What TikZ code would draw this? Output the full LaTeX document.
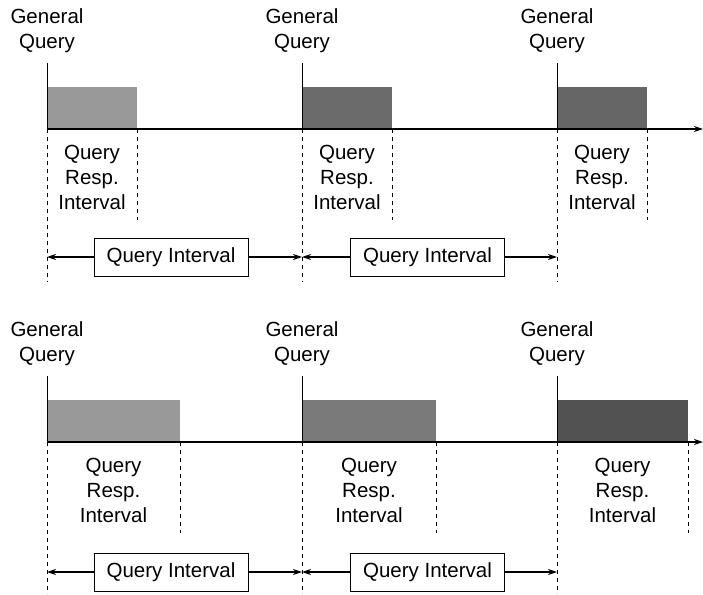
\documentclass[tikz,border=0pt]{standalone}
\usepackage{fontspec}
\setmainfont{Liberation Sans}
\usetikzlibrary{arrows.meta}
\begin{document}
\begin{tikzpicture}[x=1pt,y=-1pt,
  lbl/.style={align=center,font=\fontsize{20.5}{25}\selectfont,inner sep=0pt},
  ibox/.style={draw,line width=1pt,minimum width=154pt,minimum height=38pt,inner sep=0pt,font=\fontsize{20.5}{25}\selectfont,fill=white},
  base/.style={line width=1.4pt,-{Stealth[length=9pt,width=6pt]}},
  tick/.style={line width=0.8pt},
  dsh/.style={line width=0.9pt,dash pattern=on 4pt off 4pt},
  iarr/.style={line width=1.1pt,-{Stealth[length=9pt,width=6pt]}},
  shA/.style={fill=black!40},
  shB/.style={fill=black!58},
  shC/.style={fill=black!60},
  shD/.style={fill=black!52},
  shE/.style={fill=black!68}]
\useasboundingbox (0,0) rectangle (703,594);

% ---------- top panel ----------
\foreach \x/\n in {47/a,302/b,557/c}{
  \node[lbl] (tg\n) at (\x,31) {General\\Query};
  \coordinate (tv\n) at (\x,63);
  \coordinate (tb\n) at (\x,129);
  \coordinate (td\n) at (\x,282);
}
\fill[shA] (47,87) rectangle (137,129);
\fill[shB] (302,87) rectangle (392,129);
\fill[shC] (557,87) rectangle (647,129);
\coordinate (tend) at (703,129);
\draw[base] (tba) -- (tend);
\foreach \n in {a,b,c}{
  \draw[tick] (tv\n) -- (tb\n);
  \draw[dsh] (tb\n) -- (td\n);
}
\foreach \x/\n in {137/a,392/b,647/c}{
  \coordinate (tr\n) at (\x,129);
  \coordinate (ts\n) at (\x,220);
  \draw[dsh] (tr\n) -- (ts\n);
}
\node[lbl] (tq1) at (92,177) {Query\\Resp.\\Interval};
\node[lbl] (tq2) at (347,177) {Query\\Resp.\\Interval};
\node[lbl] (tq3) at (602,177) {Query\\Resp.\\Interval};
\coordinate (tia) at (47,257);
\coordinate (tib) at (302,257);
\coordinate (tic) at (557,257);
\node[ibox] (ti1) at (171,257) {Query Interval};
\node[ibox] (ti2) at (427.5,257) {Query Interval};
\draw[iarr] (ti1.west) -- (tia);
\draw[iarr] (ti1.east) -- (tib);
\draw[iarr] (ti2.west) -- (tib);
\draw[iarr] (ti2.east) -- (tic);

% ---------- bottom panel ----------
\foreach \x/\n in {47/a,302/b,557/c}{
  \node[lbl] (bg\n) at (\x,344) {General\\Query};
  \coordinate (bv\n) at (\x,376);
  \coordinate (bb\n) at (\x,442);
  \coordinate (bd\n) at (\x,594);
}
\fill[shA] (47,400) rectangle (180,442);
\fill[shD] (302,400) rectangle (436,442);
\fill[shE] (557,400) rectangle (688,442);
\coordinate (bend) at (703,442);
\draw[base] (bba) -- (bend);
\foreach \n in {a,b,c}{
  \draw[tick] (bv\n) -- (bb\n);
  \draw[dsh] (bb\n) -- (bd\n);
}
\foreach \x/\n in {180/a,436/b,688/c}{
  \coordinate (br\n) at (\x,442);
  \coordinate (bs\n) at (\x,533);
  \draw[dsh] (br\n) -- (bs\n);
}
\node[lbl] (bq1) at (113.5,490) {Query\\Resp.\\Interval};
\node[lbl] (bq2) at (369,490) {Query\\Resp.\\Interval};
\node[lbl] (bq3) at (622.5,490) {Query\\Resp.\\Interval};
\coordinate (bia) at (47,572);
\coordinate (bib) at (302,572);
\coordinate (bic) at (557,572);
\node[ibox] (bi1) at (171,572) {Query Interval};
\node[ibox] (bi2) at (427.5,572) {Query Interval};
\draw[iarr] (bi1.west) -- (bia);
\draw[iarr] (bi1.east) -- (bib);
\draw[iarr] (bi2.west) -- (bib);
\draw[iarr] (bi2.east) -- (bic);
\end{tikzpicture}
\end{document}
